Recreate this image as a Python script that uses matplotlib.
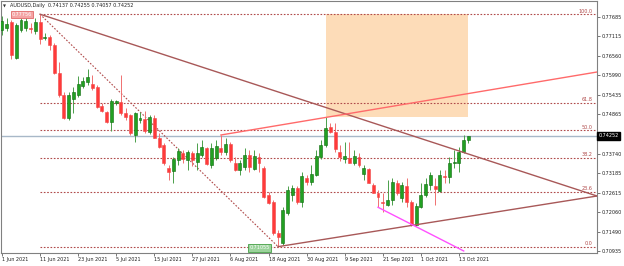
import numpy as np
import matplotlib
matplotlib.use('Agg')
from matplotlib import pyplot as plt
from matplotlib import transforms
from matplotlib.patches import Rectangle

# daily AUDUSD candles, 1 Jun 2021 .. 15 Oct 2021 (one per trading day)
opens = [0.77301, 0.77359, 0.77532, 0.76494, 0.77301, 0.77359, 0.77367, 0.77272, 0.77540, 0.77062,
         0.77091, 0.76869, 0.76061, 0.75427, 0.74764, 0.75312, 0.75427, 0.75695, 0.75802, 0.75736,
         0.75666, 0.75110, 0.74946, 0.74649, 0.75197, 0.75234, 0.74917, 0.74851, 0.74274, 0.74715,
         0.74735, 0.74369, 0.74755, 0.74188, 0.73986, 0.73323, 0.73236, 0.73553, 0.73764, 0.73553,
         0.73755, 0.73504, 0.73697, 0.73899, 0.73409, 0.73611, 0.73899, 0.73784, 0.74006, 0.73467,
         0.73265, 0.73360, 0.73697, 0.73294, 0.73648, 0.73323, 0.72544, 0.72342, 0.71449, 0.71160,
         0.72025, 0.72544, 0.72746, 0.72342, 0.73026, 0.72928, 0.73121, 0.73648, 0.73986, 0.74496,
         0.74369, 0.73793, 0.73591, 0.73602, 0.73467, 0.73648, 0.73150, 0.73285, 0.72832, 0.72610,
         0.72351, 0.72256, 0.72400, 0.72882, 0.72449, 0.72804, 0.72351, 0.71679, 0.72207, 0.72544,
         0.72832, 0.72804, 0.72668, 0.73092, 0.73054, 0.73458, 0.73458, 0.73793, 0.74137]
highs = [0.77705, 0.77647, 0.77589, 0.77503, 0.77647, 0.77647, 0.77503, 0.77647, 0.77756, 0.77215,
         0.77157, 0.76926, 0.76379, 0.75514, 0.75514, 0.75658, 0.75975, 0.75955, 0.76168, 0.76004,
         0.75715, 0.75197, 0.74966, 0.75312, 0.75283, 0.76004, 0.75052, 0.74879, 0.74946, 0.74946,
         0.74966, 0.74851, 0.74851, 0.74332, 0.74043, 0.73409, 0.73640, 0.73899, 0.73842, 0.73842,
         0.73813, 0.74043, 0.74130, 0.73937, 0.74043, 0.74130, 0.74274, 0.74188, 0.74072, 0.73640,
         0.73553, 0.73899, 0.73842, 0.73842, 0.73755, 0.73380, 0.72631, 0.72400, 0.71535, 0.72198,
         0.72804, 0.72832, 0.72804, 0.73207, 0.73121, 0.73409, 0.73842, 0.74130, 0.74780, 0.74620,
         0.74620, 0.73986, 0.74081, 0.74081, 0.73842, 0.73755, 0.73409, 0.73323, 0.72890, 0.72688,
         0.72602, 0.72977, 0.73034, 0.72977, 0.72928, 0.73034, 0.72400, 0.72314, 0.72890, 0.73034,
         0.73216, 0.73034, 0.73265, 0.73265, 0.73648, 0.73842, 0.73937, 0.74274, 0.74255]
lows = [0.77157, 0.77272, 0.76465, 0.76465, 0.77243, 0.77272, 0.77215, 0.77186, 0.76898, 0.77013,
        0.76725, 0.76033, 0.75370, 0.74735, 0.74706, 0.74908, 0.75370, 0.75629, 0.75715, 0.75571,
        0.75052, 0.74937, 0.74620, 0.74389, 0.75139, 0.74851, 0.74706, 0.74274, 0.74081, 0.74611,
        0.74332, 0.74303, 0.74179, 0.73899, 0.73409, 0.72977, 0.72890, 0.73409, 0.73467, 0.73265,
        0.73380, 0.73265, 0.73640, 0.73409, 0.73323, 0.73553, 0.73697, 0.73697, 0.73496, 0.73236,
        0.73121, 0.73265, 0.73207, 0.73265, 0.73207, 0.72458, 0.72285, 0.71391, 0.71055, 0.71103,
        0.71968, 0.72371, 0.72285, 0.72198, 0.72832, 0.72832, 0.73092, 0.73582, 0.73937, 0.74332,
        0.73793, 0.73533, 0.73458, 0.73458, 0.73409, 0.73351, 0.72977, 0.72882, 0.72593, 0.72190,
        0.72063, 0.72227, 0.72256, 0.72544, 0.72351, 0.72207, 0.71650, 0.71650, 0.72169, 0.72495,
        0.72688, 0.72256, 0.72639, 0.72882, 0.72899, 0.73314, 0.73216, 0.73746, 0.74057]
closes = [0.77561, 0.77474, 0.76580, 0.77445, 0.77589, 0.77561, 0.77321, 0.77540, 0.77042, 0.77108,
          0.76869, 0.76061, 0.75427, 0.74764, 0.75427, 0.75514, 0.75744, 0.75831, 0.75955, 0.75638,
          0.75090, 0.74966, 0.74657, 0.75254, 0.75254, 0.74908, 0.74802, 0.74332, 0.74900, 0.74773,
          0.74389, 0.74793, 0.74196, 0.73928, 0.73467, 0.73207, 0.73582, 0.73813, 0.73582, 0.73784,
          0.73553, 0.73746, 0.73937, 0.73438, 0.73899, 0.73957, 0.73784, 0.74015, 0.73553, 0.73265,
          0.73467, 0.73697, 0.73360, 0.73677, 0.73458, 0.72495, 0.72322, 0.71449, 0.71333, 0.72112,
          0.72688, 0.72746, 0.72342, 0.73092, 0.72928, 0.73150, 0.73669, 0.73986, 0.74467, 0.74369,
          0.73862, 0.73648, 0.73669, 0.73475, 0.73669, 0.73409, 0.73314, 0.72899, 0.72610, 0.72478,
          0.72305, 0.72400, 0.72928, 0.72593, 0.72832, 0.72351, 0.71679, 0.72227, 0.72544, 0.72861,
          0.73121, 0.72709, 0.73121, 0.73054, 0.73458, 0.73504, 0.73793, 0.74137, 0.74252]

date_labels = ['1 Jun 2021', '11 Jun 2021', '23 Jun 2021', '5 Jul 2021', '15 Jul 2021',
               '27 Jul 2021', '6 Aug 2021', '18 Aug 2021', '30 Aug 2021', '9 Sep 2021',
               '21 Sep 2021', '1 Oct 2021', '13 Oct 2021']
date_bars = [0, 8, 16, 24, 32, 40, 48, 56, 64, 72, 80, 88, 96]

price_ticks = [0.77685, 0.77115, 0.76560, 0.75990, 0.75435, 0.74865,
               0.73740, 0.73185, 0.72615, 0.72060, 0.71490, 0.70935]

# fibonacci retracement: swing high bar / swing low bar
fib_high_bar, fib_high = 8, 0.77756
fib_low_bar, fib_low = 58, 0.71055
fib_levels = [0.0, 23.6, 38.2, 50.0, 61.8, 100.0]

# trend lines as (bar, price) anchor pairs
down_line = [(8, 0.77756), (125, 0.72515)]
up_line = [(58, 0.71055), (125, 0.72515)]
upper_line = [(46, 0.74274), (125, 0.76090)]
magenta_line = [(79, 0.72190), (97, 0.70930)]
# rectangle: from bar to bar, between two prices
zone = (68, 98, 0.74780, 0.77756)

title = 'AUDUSD,Daily  0.74137 0.74255 0.74057 0.74252'
last_price = 0.74252

up_col = '#22a022'
up_edge = '#0f6a0f'
dn_col = '#ff3a3a'
fib_col = '#b04a4a'
fs = 3.5

fig = plt.figure(figsize=(6.24, 2.66), dpi=100)
ax = fig.add_axes([1 / 624, 13 / 266, 596 / 624, 252 / 266])
ax.set_xlim(-0.2, 125)
ax.set_ylim(0.70872, 0.78137)

n = len(opens)
x = np.arange(n)
o = np.array(opens)
c = np.array(closes)
up = c >= o

# zone rectangle behind everything
ax.add_patch(Rectangle((zone[0], zone[2]), zone[1] - zone[0], zone[3] - zone[2],
                       facecolor='#fddcb8', edgecolor='none', zorder=0))

# fib levels
rng = fib_high - fib_low
trans = transforms.blended_transform_factory(ax.transAxes, ax.transData)
for lv in fib_levels:
    p = fib_low + rng * lv / 100
    ax.plot([fib_high_bar, 125], [p, p], color=fib_col, lw=0.8, ls=(0, (1.5, 1.5)), zorder=2)
    ax.text(0.992, p + 0.0002, '%.1f' % lv, transform=trans, ha='right', va='bottom',
            fontsize=fs, color=fib_col, zorder=5)
ax.plot([fib_high_bar, fib_low_bar], [fib_high, fib_low], color=fib_col, lw=0.8,
        ls=(0, (1.5, 1.5)), zorder=2)

# current price line
ax.axhline(last_price, color='#a8b8c8', lw=1.0, zorder=1)

# candles
ax.vlines(x[up], np.array(lows)[up], np.array(highs)[up], color='#4aa04a', lw=0.7, zorder=3)
ax.vlines(x[~up], np.array(lows)[~up], np.array(highs)[~up], color='#f07070', lw=0.7, zorder=3)
body = np.maximum(np.abs(c - o), 0.00010)
ax.bar(x[up], body[up], bottom=np.minimum(o, c)[up], width=0.62,
       color=up_col, edgecolor=up_edge, linewidth=0.4, zorder=4)
ax.bar(x[~up], body[~up], bottom=np.minimum(o, c)[~up], width=0.62,
       color=dn_col, edgecolor='#f04848', linewidth=0.4, zorder=4)

# trend lines
for line, col in [(down_line, '#a85858'), (up_line, '#a85858'),
                  (upper_line, '#ff6a6a'), (magenta_line, '#ff50ff')]:
    ax.plot([line[0][0], line[1][0]], [line[0][1], line[1][1]], color=col, lw=1.0, zorder=5)

# swing labels
ax.text(fib_high_bar - 3.8, fib_high, '%.5f' % fib_high, fontsize=fs, color='white',
        ha='center', va='center', zorder=6,
        bbox=dict(boxstyle='square,pad=0.25', fc='#f4a4a4', ec='#e06a6a', lw=0.6))
ax.text(fib_low_bar - 3.9, fib_low - 0.00035, '%.5f' % fib_low, fontsize=fs, color='white',
        ha='center', va='center', zorder=6,
        bbox=dict(boxstyle='square,pad=0.25', fc='#9ad29a', ec='#45a045', lw=0.6))

# axes look
for s in ax.spines.values():
    s.set_color('#808080')
    s.set_linewidth(0.8)
ax.yaxis.tick_right()
ax.set_yticks(price_ticks)
ax.set_yticklabels(['%.5f' % p for p in price_ticks])
ax.tick_params(axis='y', length=2, width=0.6, color='#606060', labelsize=fs, pad=1.5,
               labelcolor='#202020')
ax.set_xticks(date_bars)
ax.set_xticklabels(date_labels)
ax.tick_params(axis='x', length=2, width=0.6, color='#606060', labelsize=fs, pad=1.0,
               labelcolor='#202020')
for lbl in ax.get_xticklabels():
    lbl.set_horizontalalignment('left')

# last price box on the price scale
ax.text(1.003, last_price, '%.5f' % last_price, transform=trans, fontsize=fs, color='white',
        ha='left', va='center', zorder=7, clip_on=False,
        bbox=dict(boxstyle='square,pad=0.3', fc='black', ec='black'))

fig.text(3 / 624, 1 - 6 / 266, '\u25bc', fontsize=2.8, color='#303030', va='center')
fig.text(10 / 624, 1 - 6 / 266, title, fontsize=fs, color='#202020', va='center')

fig.savefig('out.png', dpi=100)
